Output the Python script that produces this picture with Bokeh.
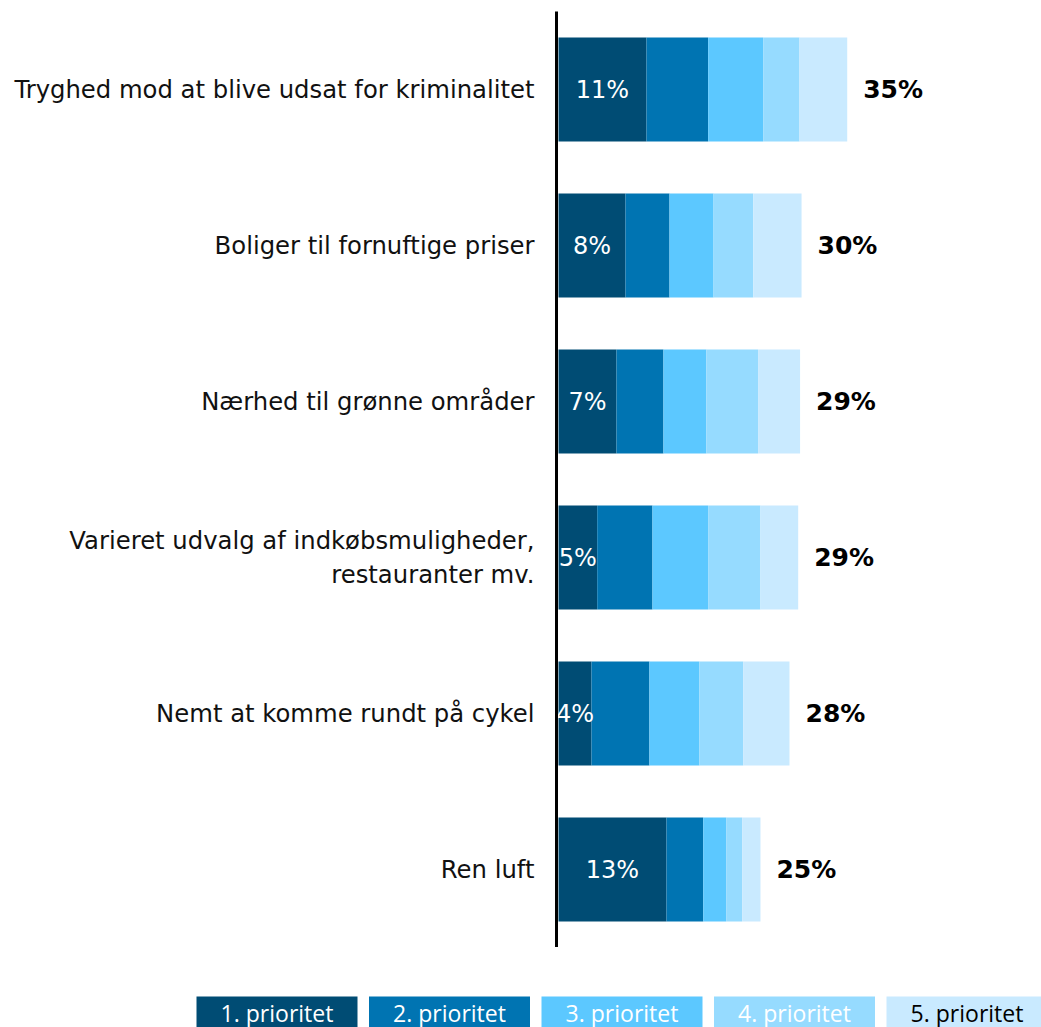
from bokeh.plotting import figure
from bokeh.models import ColumnDataSource, Range1d, FactorRange
from bokeh.layouts import column
from bokeh.core.properties import value
from bokeh.embed import file_html
from bokeh.resources import INLINE

categories = [
    "Tryghed mod at blive udsat for kriminalitet",
    "Boliger til fornuftige priser",
    "Nærhed til grønne områder",
    "Varieret udvalg af indkøbsmuligheder,\nrestauranter mv.",
    "Nemt at komme rundt på cykel",
    "Ren luft",
]
prio1 = [10.73, 8.17, 7.07, 4.72, 4.02, 13.17]
prio2 = [7.52, 5.37, 5.73, 6.74, 7.07, 4.48]
prio3 = [6.71, 5.37, 5.24, 6.79, 6.10, 2.80]
prio4 = [4.43, 4.84, 6.30, 6.38, 5.33, 1.95]
prio5 = [5.82, 5.89, 5.12, 4.60, 5.65, 2.23]
series_names = ["1. prioritet", "2. prioritet", "3. prioritet", "4. prioritet", "5. prioritet"]
colors = ["#004c74", "#0074b2", "#5cc8ff", "#96dbff", "#c9eaff"]
legend_text_colors = ["#ffffff", "#ffffff", "#ffffff", "#ffffff", "#000000"]

keys = ["p1", "p2", "p3", "p4", "p5"]
totals = [a + b + c + d + e for a, b, c, d, e in zip(prio1, prio2, prio3, prio4, prio5)]
src = ColumnDataSource(dict(
    cat=categories, p1=prio1, p2=prio2, p3=prio3, p4=prio4, p5=prio5,
    tot=totals,
    mid1=[v / 2 for v in prio1],
    lab1=[f"{round(v)}%" for v in prio1],
    labt=[f"{round(v)}%" for v in totals],
))

W = 1041
PX = 8.2  # pixels per percentage point
frame_left = 556
frame_w = W - frame_left
x0 = -2 / PX
p = figure(
    width=W, height=947, output_backend="svg", toolbar_location=None,
    y_range=FactorRange(factors=list(reversed(categories)), range_padding=0),
    x_range=Range1d(x0, x0 + frame_w / PX),
    min_border_left=frame_left, min_border_right=0, min_border_top=11, min_border_bottom=0,
    x_axis_location=None,
)
p.frame_align = False
p.outline_line_color = None
p.grid.visible = False
p.background_fill_color = "white"
p.border_fill_color = "white"

p.hbar_stack(keys, y="cat", height=0.667, color=colors, source=src, line_color=None)

p.text(x="mid1", y="cat", text="lab1", source=src, text_color="white",
       text_font=value("DejaVu Sans"), text_font_size="24px",
       text_align="center", text_baseline="middle")
p.text(x="tot", y="cat", text="labt", source=src, text_color="black",
       text_font=value("DejaVu Sans"), text_font_size="25px", text_font_style="bold",
       text_align="left", text_baseline="middle", x_offset=16)

ax = p.yaxis[0]
ax.axis_line_color = "black"
ax.axis_line_width = 3
ax.major_tick_line_color = None
ax.minor_tick_line_color = None
ax.major_tick_out = 0
ax.major_tick_in = 0
ax.major_label_standoff = 22
ax.major_label_text_font = "DejaVu Sans"
ax.major_label_text_font_size = "24.3px"
ax.major_label_text_color = "#111111"
ax.major_label_text_line_height = 1.15

# legend strip
lg_h = 80
lg = figure(width=W, height=lg_h, output_backend="svg", toolbar_location=None,
            x_range=Range1d(0, W), y_range=Range1d(lg_h, 0),
            min_border=0, x_axis_location=None, y_axis_location=None)
lg.frame_align = False
lg.outline_line_color = None
lg.grid.visible = False
box_w, pitch, start = 161, 172.5, 196
lefts = [start + pitch * i for i in range(len(series_names))]
lsrc = ColumnDataSource(dict(
    left=lefts, right=[l + box_w for l in lefts], top=[49] * 5, bottom=[lg_h + 10] * 5,
    cx=[l + box_w / 2 for l in lefts], ty=[65] * 5,
    name=series_names, color=colors, tcolor=legend_text_colors,
))
lg.quad(left="left", right="right", top="top", bottom="bottom", color="color",
        line_color=None, source=lsrc)
lg.text(x="cx", y="ty", text="name", text_color="tcolor", source=lsrc,
        text_font=value("Open Sans"), text_font_size="23px",
        text_align="center", text_baseline="middle")

layout = column(p, lg, spacing=0)
open("out.html", "w").write(file_html(layout, INLINE))
